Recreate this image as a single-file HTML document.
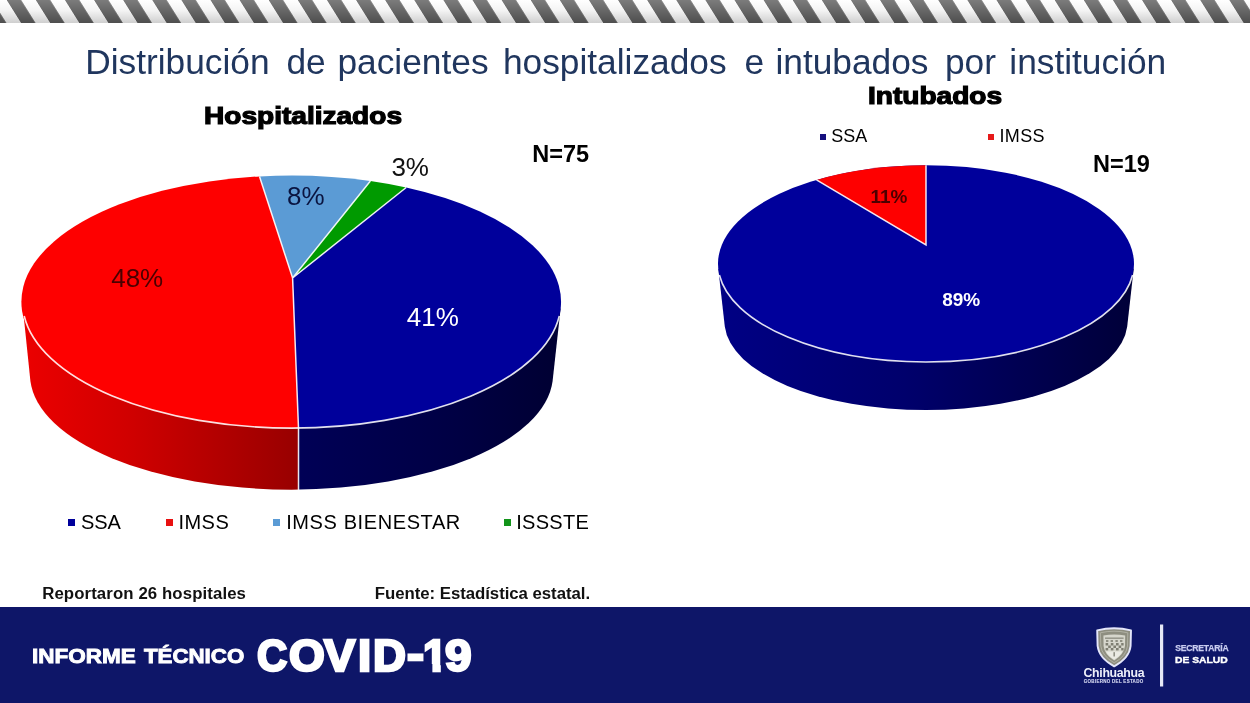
<!DOCTYPE html>
<html lang="es">
<head>
<meta charset="utf-8">
<title>Distribución de pacientes hospitalizados e intubados por institución</title>
<style>
*{margin:0;padding:0;box-sizing:border-box}
html,body{width:1250px;height:703px;overflow:hidden;background:#fff}
body{position:relative;font-family:"Liberation Sans",sans-serif;color:#000}
#art{position:absolute;left:0;top:0;width:1250px;height:703px;display:block}
.t{position:absolute;white-space:pre;line-height:1;transform-origin:0 0}
#title{left:85.2px;top:44.3px;font-size:35.3px;color:#20365e}
#title span{display:inline-block}
.hd{font-weight:bold;-webkit-text-stroke:1.2px #000;font-size:24.2px;transform:scaleX(1.16)}
#h1{left:203.9px;top:104.1px}
#h2{left:867.5px;top:84.3px}
.n{font-weight:bold;font-size:23.5px}
#n75{left:532.2px;top:143px}
#n19{left:1093px;top:153.4px}
.pl{font-size:26px}
.pb{font-size:19px;font-weight:bold}
.lg{font-size:20px}
.lg2{font-size:18px}
.sq{position:absolute;width:7px;height:7px}
.ft{font-weight:bold;font-size:16.8px;color:#111;letter-spacing:.1px}
#footer{position:absolute;left:0;top:607px;width:1250px;height:96px;background:#0e1668}
.w{color:#fff;font-weight:bold}
#it{position:absolute;left:0;top:646.4px;white-space:pre;line-height:1;font-size:20.2px;font-weight:bold;color:#fff}
#it span{display:inline-block;position:relative;transform-origin:0 0;-webkit-text-stroke:.9px #fff}
#cv{position:absolute;left:0;top:634.5px;white-space:nowrap;line-height:1;font-size:42px;font-weight:bold;color:#fff}
#cv span{display:inline-block;position:relative;transform-origin:0 0;-webkit-text-stroke:2.4px #fff}
</style>
</head>
<body>
<svg id="art" width="1250" height="703" viewBox="0 0 1250 703">
<defs>
<linearGradient id="bandL" x1="0" y1="0" x2="0" y2="1"><stop offset="0" stop-color="#fff"/><stop offset=".45" stop-color="#f4f4f4"/><stop offset="1" stop-color="#cfcfcf"/></linearGradient>
<linearGradient id="bandD" x1="0" y1="0" x2="0" y2="1"><stop offset="0" stop-color="#7c7c7c"/><stop offset="1" stop-color="#4e4e4e"/></linearGradient>
<pattern id="stripes" width="29.11" height="40" patternUnits="userSpaceOnUse" patternTransform="translate(6.7 0) skewX(32.05)"><rect x="0" y="0" width="14.4" height="40" fill="#fff"/></pattern>
<mask id="stripeMask"><rect x="0" y="0" width="1250" height="23" fill="url(#stripes)"/></mask>
<linearGradient id="sideL" gradientUnits="userSpaceOnUse" x1="22" y1="0" x2="561" y2="0">
<stop offset="0" stop-color="#ec0000"/><stop offset=".2" stop-color="#d00000"/><stop offset=".4" stop-color="#ac0000"/><stop offset=".5128" stop-color="#980000"/><stop offset=".5129" stop-color="#000056"/><stop offset=".8" stop-color="#000044"/><stop offset="1" stop-color="#000032"/>
</linearGradient>
<linearGradient id="sideR" gradientUnits="userSpaceOnUse" x1="718" y1="0" x2="1134" y2="0">
<stop offset="0" stop-color="#000084"/><stop offset=".45" stop-color="#00006c"/><stop offset="1" stop-color="#000038"/>
</linearGradient>
</defs>
<!-- top band -->
<rect x="0" y="0" width="1250" height="23" fill="url(#bandL)"/>
<rect x="0" y="0" width="1250" height="23" fill="url(#bandD)" mask="url(#stripeMask)"/>
<!-- left pie -->
<path d="M22.9,308.4 L30.4,381 A261.5,115 0 0 0 552.6,381 L560.6,308.4Z" fill="url(#sideL)"/>
<path d="M292.6,278.0 L259.5,176.4 A269.25,126.25 0 0 1 370.4,181.0Z" fill="#5b9bd5"/>
<path d="M292.6,278.0 L370.4,181.0 A269.25,126.25 0 0 1 406.2,187.5Z" fill="#009a00"/>
<path d="M292.6,278.0 L406.2,187.5 A269.25,126.25 0 0 1 298.5,428.0Z" fill="#00009b"/>
<path d="M292.6,278.0 L298.5,428.0 A269.25,126.25 0 0 1 259.5,176.4Z" fill="#fe0000"/>
<path d="M259.5,176.4 L292.6,278.0 L370.4,181.0 M292.6,278.0 L406.2,187.5 M292.6,278.0 L298.5,428.0 L298.5,490.0" fill="none" stroke="#fff" stroke-opacity=".9" stroke-width="1.5"/>
<path d="M24.2,316 A269.25,126.25 0 0 0 559.3,316" fill="none" stroke="#fff" stroke-opacity=".88" stroke-width="1.6"/>
<!-- right pie -->
<path d="M718.3,268.7 L724.8,326.6 A201.5,88.3 0 0 0 1127.2,326.6 L1133.7,268.7Z" fill="url(#sideR)"/>
<ellipse cx="926" cy="263.6" rx="208" ry="98.4" fill="#00009b"/>
<path d="M926.0,245.0 L816.5,179.9 A208,98.4 0 0 1 926.0,165.2Z" fill="#fe0000"/>
<path d="M816.5,179.9 L926.0,245.0 L926.0,165.2" fill="none" stroke="#fff" stroke-opacity=".9" stroke-width="1.5"/>
<path d="M719.4,275 A208,98.4 0 0 0 1132.6,275" fill="none" stroke="#fff" stroke-opacity=".88" stroke-width="1.6"/>
</svg>

<div class="t" id="title"><span>Distribución </span><span style="margin-left:6.99px">de </span><span style="margin-left:1.99px">pacientes </span><span style="margin-left:4.59px">hospitalizados </span><span style="margin-left:8.19px">e </span><span style="margin-left:1.39px">intubados </span><span style="margin-left:6.59px">por </span><span style="margin-left:3.59px">institución</span></div>

<div class="t hd" id="h1">Hospitalizados</div>
<div class="t hd" id="h2">Intubados</div>
<div class="t n" id="n75">N=75</div>
<div class="t n" id="n19">N=19</div>

<div class="t pl" id="p48" style="left:111.2px;top:265.4px;color:#4a0000">48%</div>
<div class="t pl" id="p8" style="left:287px;top:182.6px;color:#0a1440">8%</div>
<div class="t pl" id="p3" style="left:391.4px;top:153.9px;color:#111">3%</div>
<div class="t pl" id="p41" style="left:406.8px;top:304.3px;color:#fff">41%</div>
<div class="t pb" id="p11" style="left:870.5px;top:187.1px;color:#4d0000">11%</div>
<div class="t pb" id="p89" style="left:942.2px;top:290.2px;color:#fff">89%</div>

<!-- right legend -->
<div class="sq" style="left:820.2px;top:133.7px;width:6px;height:6px;background:#16107e"></div>
<div class="t lg2" id="r1" style="left:831.2px;top:127.1px">SSA</div>
<div class="sq" style="left:988px;top:133.7px;width:6px;height:6px;background:#e61919"></div>
<div class="t lg2" id="r2" style="left:999.4px;top:127.1px;letter-spacing:.4px">IMSS</div>

<!-- left legend -->
<div class="sq" style="left:68px;top:519px;background:#00009b"></div>
<div class="t lg" id="l1" style="left:80.9px;top:511.9px">SSA</div>
<div class="sq" style="left:166px;top:519px;background:#e81010"></div>
<div class="t lg" id="l2" style="left:178.5px;top:511.9px;letter-spacing:.45px">IMSS</div>
<div class="sq" style="left:272.5px;top:519px;background:#5b9bd5"></div>
<div class="t lg" id="l3" style="left:286.2px;top:511.9px;letter-spacing:.6px">IMSS BIENESTAR</div>
<div class="sq" style="left:503.5px;top:519px;background:#12941a"></div>
<div class="t lg" id="l4" style="left:516.3px;top:511.9px;letter-spacing:.26px">ISSSTE</div>

<div class="t ft" id="f1" style="left:42.2px;top:585.9px">Reportaron 26 hospitales</div>
<div class="t ft" id="f2" style="left:374.8px;top:585.9px;letter-spacing:-.04px">Fuente: Estadística estatal.</div>

<div id="footer"></div>
<div id="it"><span style="left:31.5px;transform:scaleX(1.114)">INFORME </span><span style="left:44.9px;transform:scaleX(1.103)">TÉCNICO</span></div>
<div id="cv"><span style="left:256.70px;transform:scale(0.998,1.04);">C</span><span style="left:258.51px;transform:scale(1.095,1.04);">O</span><span style="left:261.39px;transform:scale(1.115,1.04);">V</span><span style="left:267.07px;transform:scale(1.13,1.04);">I</span><span style="left:270.37px;transform:scale(1.087,1.04);">D</span><span style="left:274.16px;top:-1.2px;transform:scale(1.215,1.04);">-</span><span style="left:275.51px;transform:scale(1.03,1.04);clip-path:polygon(0 0,17.3px 0,17.3px 100%,9.1px 100%,9.1px 28px,0 28px);">1</span><span style="left:274.10px;transform:scale(1.138,1.04);">9</span></div>

<svg id="logo" style="position:absolute;left:1080px;top:620px" width="170" height="75" viewBox="1080 620 170 75">
<path d="M1097.2,630.4 Q1114,626 1131,630.4 L1130.6,646 Q1129.4,658 1114.2,666.4 Q1099,658 1097.6,646Z" fill="#8e8e80" stroke="#e4e6fa" stroke-width="1.9" stroke-linejoin="round"/>
<path d="M1100.4,632.8 Q1114,629.6 1127.8,632.8 L1127.5,646 Q1126.4,656 1114.2,662.8 Q1102,656 1100.8,646Z" fill="none" stroke="#b9b9ac" stroke-width=".8"/>
<path d="M1103.4,635.4 Q1114,633.4 1125.2,635.4 L1125,646 Q1124,654.4 1114.2,660.6 Q1104.4,654.4 1103.6,646Z" fill="#d6d6cc"/>
<g fill="#7e7e72">
<rect x="1105" y="637.6" width="18.6" height="1.1"/>
<rect x="1106" y="640.2" width="2.4" height="1.6"/><rect x="1110.6" y="640.2" width="2.4" height="1.6"/><rect x="1115.4" y="640.2" width="2.4" height="1.6"/><rect x="1120" y="640.2" width="2.4" height="1.6"/>
<rect x="1105.6" y="643" width="2.6" height="2.5"/><rect x="1110.8" y="643" width="2.6" height="2.5"/><rect x="1116" y="643" width="2.6" height="2.5"/><rect x="1121.2" y="643" width="2.4" height="2.5"/>
<rect x="1108.2" y="645.5" width="2.6" height="2.5"/><rect x="1113.4" y="645.5" width="2.6" height="2.5"/><rect x="1118.6" y="645.5" width="2.6" height="2.5"/>
<rect x="1105.6" y="648" width="2.6" height="2.4"/><rect x="1110.8" y="648" width="2.6" height="2.4"/><rect x="1116" y="648" width="2.6" height="2.4"/><rect x="1121.2" y="648" width="2.4" height="2.4"/>
<rect x="1113.4" y="652" width="1.5" height="4.6"/>
</g>
<path d="M1106,651.4 L1122.4,651.4 Q1120,656 1114.2,659.6 Q1108.4,656 1106,651.4Z" fill="#efefe8" fill-opacity=".8"/>
<rect x="1113.5" y="652.2" width="1.4" height="4.2" fill="#8a8a7e"/>
<rect x="1160" y="624.5" width="3.2" height="62" fill="#e6e8f6"/>
</svg>
<div class="t w" id="ch" style="left:1083.5px;top:667.3px;font-size:12.3px;color:#eef0fa;letter-spacing:-.3px">Chihuahua</div>
<div class="t w" id="ge" style="left:1083.8px;top:679.6px;font-size:4.5px;color:#d4d7f0;letter-spacing:.28px;-webkit-text-stroke:.12px #d4d7f0">GOBIERNO DEL ESTADO</div>
<div class="t w" id="se" style="left:1175.2px;top:644.1px;font-size:8.6px;color:#c8ccf0;font-weight:bold;letter-spacing:-.2px;-webkit-text-stroke:.25px #c8ccf0">SECRETARÍA</div>
<div class="t w" id="ds" style="left:1174.8px;top:654.8px;font-size:9.9px;-webkit-text-stroke:.4px #fff;transform:scaleX(1.045)">DE SALUD</div>
</body>
</html>
